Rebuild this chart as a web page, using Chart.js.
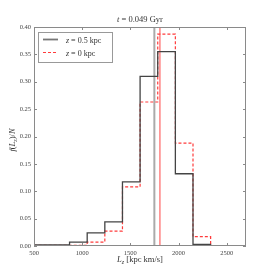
<!DOCTYPE html>
<html>
<head>
<meta charset="utf-8">
<script src="https://cdn.jsdelivr.net/npm/chart.js@4.4.0/dist/chart.umd.min.js"></script>
<style>
  html, body { margin: 0; padding: 0; background: #fff; }
</style>
</head>
<body>
<canvas id="grafico" width="274" height="274"></canvas>
<script>
// histogram of L_z, same bins for both heights
const binEdges = [503, 686, 869, 1052, 1235, 1418, 1601, 1784, 1967, 2150, 2333];
const histZ05 = [0.002, 0.002, 0.007, 0.024, 0.044, 0.117, 0.310, 0.355, 0.132, 0.003];
const histZ0 = [0.001, 0.001, 0.001, 0.007, 0.027, 0.108, 0.263, 0.387, 0.188, 0.017];
const meanZ05 = 1749;
const meanZ0 = 1807;
const xTicks = [500, 1000, 1500, 2000, 2500];
const yTicks = [0, 0.05, 0.1, 0.15, 0.2, 0.25, 0.3, 0.35, 0.4];

const serif = "'Liberation Serif', 'DejaVu Serif', serif";

// step outline: up from baseline, across each bin, down at the end
const toSteps = (values) => {
  const pts = [{ x: binEdges[0], y: 0 }];
  values.forEach((v, i) => pts.push({ x: binEdges[i], y: v }));
  pts.push({ x: binEdges[binEdges.length - 1], y: values[values.length - 1] });
  pts.push({ x: binEdges[binEdges.length - 1], y: 0 });
  return pts;
};

// text with italic / subscript pieces: [text, italic, sub]
const drawRich = (ctx, parts, x, y, size, align) => {
  const fontOf = (p) => (p[1] ? "italic " : "") + (p[2] ? size * 0.72 : size) + "px " + serif;
  let total = 0;
  parts.forEach((p) => {
    ctx.font = fontOf(p);
    total += ctx.measureText(p[0]).width;
  });
  let cx = align === "center" ? x - total / 2 : x;
  ctx.textBaseline = "alphabetic";
  ctx.textAlign = "left";
  parts.forEach((p) => {
    ctx.font = fontOf(p);
    ctx.fillText(p[0], cx, p[2] ? y + size * 0.25 : y);
    cx += ctx.measureText(p[0]).width;
  });
};

const marcoPlugin = {
  id: "marco",
  afterDatasetsDraw(chart) {
    const ctx = chart.ctx;
    const a = chart.chartArea;
    const sx = chart.scales.x;
    const sy = chart.scales.y;
    ctx.save();
    ctx.strokeStyle = "#8a8a8a";
    ctx.lineWidth = 1;
    ctx.strokeRect(a.left + 0.5, a.top + 0.5, a.right - a.left - 1, a.bottom - a.top - 1);
    ctx.beginPath();
    xTicks.forEach((v) => {
      const px = Math.round(sx.getPixelForValue(v)) + 0.5;
      ctx.moveTo(px, a.bottom); ctx.lineTo(px, a.bottom - 3);
      ctx.moveTo(px, a.top); ctx.lineTo(px, a.top + 3);
    });
    yTicks.forEach((v) => {
      const py = Math.round(sy.getPixelForValue(v)) + 0.5;
      ctx.moveTo(a.left, py); ctx.lineTo(a.left + 3, py);
      ctx.moveTo(a.right, py); ctx.lineTo(a.right - 3, py);
    });
    ctx.stroke();

    // legend box
    const lx = 38, ly = 32, lw = 74, lh = 30;
    ctx.fillStyle = "#fff";
    ctx.fillRect(lx, ly, lw, lh);
    ctx.strokeStyle = "#999";
    ctx.strokeRect(lx + 0.5, ly + 0.5, lw, lh);
    ctx.lineWidth = 1.8;
    ctx.strokeStyle = "#777";
    ctx.beginPath(); ctx.moveTo(43, 39.5); ctx.lineTo(58, 39.5); ctx.stroke();
    ctx.lineWidth = 1.1;
    ctx.strokeStyle = "#ff3b3b";
    ctx.setLineDash([3, 2]);
    ctx.beginPath(); ctx.moveTo(43, 52.5); ctx.lineTo(58, 52.5); ctx.stroke();
    ctx.setLineDash([]);
    ctx.fillStyle = "#333";
    drawRich(ctx, [["z", true], [" = 0.5 kpc", false]], 66, 42.5, 8, "left");
    drawRich(ctx, [["z", true], [" = 0 kpc", false]], 66, 55.5, 8, "left");

    // title and axis labels
    drawRich(ctx, [["t", true], [" = 0.049 Gyr", false]], 140, 22, 8.5, "center");
    drawRich(ctx, [["L", true], ["z", true, true], [" [kpc km/s]", false]], 140, 262, 8.5, "center");
    ctx.translate(15, 140);
    ctx.rotate(-Math.PI / 2);
    drawRich(ctx, [["f", true], ["(", false], ["L", true], ["z", true, true], [")/", false], ["N", true]], 0, 0, 8.5, "center");
    ctx.restore();
  },
};

const ctx = document.getElementById("grafico");
const grafico = new Chart(ctx, {
  type: "line",
  data: {
    datasets: [
      {
        label: "z = 0.5 kpc",
        data: toSteps(histZ05),
        stepped: "before",
        borderColor: "#444",
        borderWidth: 1.3,
        pointRadius: 0,
        fill: false,
      },
      {
        label: "z = 0 kpc",
        data: toSteps(histZ0),
        stepped: "before",
        borderColor: "#ff3b3b",
        borderWidth: 1.2,
        borderDash: [3, 2],
        pointRadius: 0,
        fill: false,
      },
      {
        label: "mean z = 0.5",
        data: [{ x: meanZ05, y: 0 }, { x: meanZ05, y: 0.4 }],
        borderColor: "#aaaaaa",
        borderWidth: 2,
        pointRadius: 0,
      },
      {
        label: "mean z = 0",
        data: [{ x: meanZ0, y: 0 }, { x: meanZ0, y: 0.4 }],
        borderColor: "#ff4444",
        borderWidth: 1,
        pointRadius: 0,
      },
    ],
  },
  options: {
    responsive: false,
    animation: false,
    devicePixelRatio: 1,
    layout: { padding: { top: 27, right: 28, left: 0, bottom: 0 } },
    plugins: {
      legend: { display: false },
      tooltip: { enabled: false },
    },
    scales: {
      x: {
        type: "linear",
        min: 500,
        max: 2700,
        afterBuildTicks: (s) => {
          s.ticks = xTicks.map((v) => ({ value: v }));
        },
        afterFit: (s) => {
          s.height = 28;
        },
        grid: { display: false, drawTicks: false },
        border: { display: false },
        ticks: {
          color: "#444",
          padding: 3,
          maxRotation: 0,
          autoSkip: false,
          font: { family: serif, size: 6.5 },
          callback: (value) => value,
        },
      },
      y: {
        type: "linear",
        min: 0,
        max: 0.4,
        afterBuildTicks: (s) => {
          s.ticks = yTicks.map((v) => ({ value: v }));
        },
        afterFit: (s) => {
          s.width = 34;
        },
        grid: { display: false, drawTicks: false },
        border: { display: false },
        ticks: {
          color: "#444",
          padding: 3,
          autoSkip: false,
          font: { family: serif, size: 6.5 },
          callback: (value) => value.toFixed(2),
        },
      },
    },
  },
  plugins: [marcoPlugin],
});
</script>
</body>
</html>
